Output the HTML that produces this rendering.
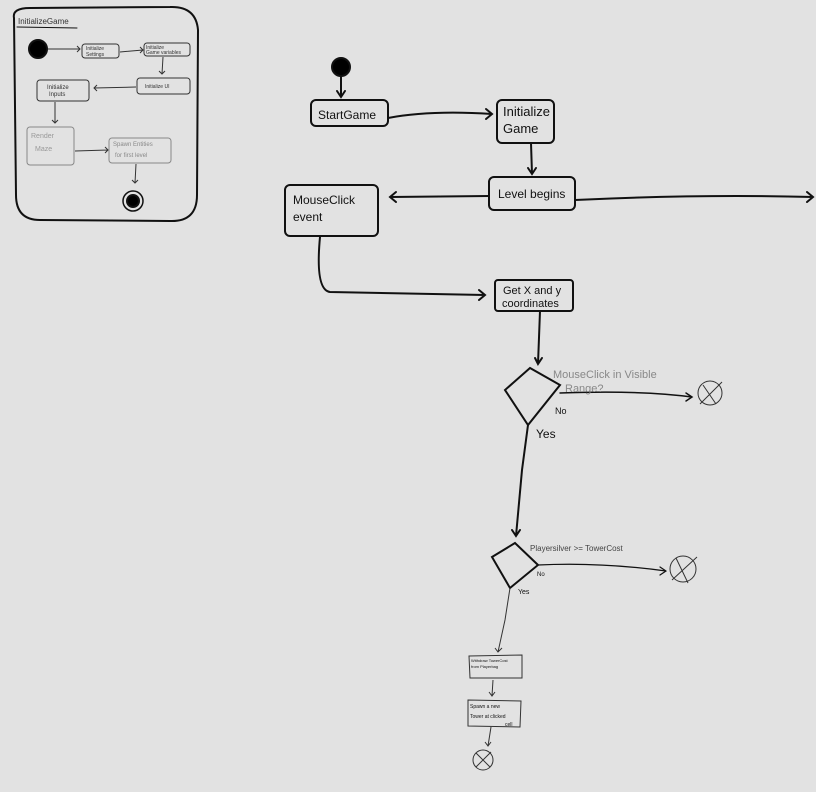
<!DOCTYPE html>
<html><head><style>html,body{margin:0;padding:0;background:#e2e2e2;}svg{display:block}</style></head>
<body>
<svg width="816" height="792" viewBox="0 0 816 792" xmlns="http://www.w3.org/2000/svg" font-family="Liberation Sans, sans-serif">
<rect width="816" height="792" fill="#e2e2e2"/>
<g fill="none" stroke="#111" stroke-width="2" stroke-linecap="round">
<!-- left frame -->
<path d="M14,18 Q12,8 30,8 L170,7 Q196,6 198,30 L197,195 Q197,222 170,221 L40,220 Q16,220 16,195 Z"/>
<path d="M17,27 L77,28" stroke-width="1"/>
<circle cx="38" cy="49" r="9" fill="#000"/>
<circle cx="133" cy="201" r="10" stroke-width="1.5"/>
<circle cx="133" cy="201" r="6" fill="#000"/>
</g>
<g fill="none" stroke="#333" stroke-width="1">
<rect x="82" y="44" width="37" height="14" rx="3"/>
<rect x="144" y="43" width="46" height="13" rx="3"/>
<rect x="137" y="78" width="53" height="16" rx="3"/>
<rect x="37" y="80" width="52" height="21" rx="3"/>
<rect x="27" y="127" width="47" height="38" rx="3" stroke="#888"/>
<rect x="109" y="138" width="62" height="25" rx="3" stroke="#888"/>
<path d="M48,49 L80,49 M77,46 L80,49 L77,52"/>
<path d="M120,52 L143,50 M140,47 L143,50 L140,53"/>
<path d="M163,57 L162,74 M159,71 L162,74 L165,71"/>
<path d="M136,87 L94,88 M97,85 L94,88 L97,91"/>
<path d="M55,102 L55,123 M52,120 L55,123 L58,120"/>
<path d="M75,151 L108,150 M105,147 L108,150 L105,153"/>
<path d="M136,164 L135,183 M132,180 L135,183 L138,180"/>
</g>
<g font-size="5" fill="#333">
<text x="18" y="24" font-size="8">InitializeGame</text>
<text x="86" y="50">Initialize</text><text x="86" y="56">Settings</text>
<text x="146" y="49">Initialize</text><text x="146" y="54">Game variables</text>
<text x="145" y="88">Initialize UI</text>
<text x="47" y="89" font-size="6">Initialize</text><text x="49" y="96" font-size="6">Inputs</text>
<text x="31" y="138" font-size="7" fill="#999">Render</text><text x="35" y="151" font-size="7" fill="#999">Maze</text>
<text x="113" y="146" font-size="6" fill="#888">Spawn Entities</text><text x="115" y="157" font-size="6" fill="#888">for first level</text>
</g>
<!-- main flow -->
<g fill="none" stroke="#111" stroke-width="2" stroke-linecap="round">
<circle cx="341" cy="67" r="9" fill="#000"/>
<path d="M341,76 L341,97 M337,91 L341,97 L345,91"/>
<rect x="311" y="100" width="77" height="26" rx="5"/>
<path d="M388,118 Q430,110 492,114 M486,109 L492,114 L486,119"/>
<rect x="497" y="100" width="57" height="43" rx="5"/>
<path d="M531,143 L532,174 M528,168 L532,174 L536,168"/>
<rect x="489" y="177" width="86" height="33" rx="5"/>
<path d="M489,196 L390,197 M396,192 L390,197 L396,202"/>
<path d="M575,200 Q700,194 813,197 M807,192 L813,197 L807,202"/>
<rect x="285" y="185" width="93" height="51" rx="5"/>
<path d="M320,237 Q315,290 330,292 L485,295 M479,290 L485,295 L479,300"/>
<rect x="495" y="280" width="78" height="31" rx="3"/>
<path d="M540,311 L538,364 M535,358 L538,364 L542,358"/>
<path d="M530,368 L505,390 L528,425 L560,385 Z"/>
<path d="M560,393 Q640,390 692,397 M686,393 L692,397 L686,401" stroke-width="1.5"/>
<path d="M528,425 L522,470 L516,536 M512,530 L516,536 L520,530"/>
<path d="M515,543 L492,557 L510,588 L538,565 Z"/>
<path d="M538,565 Q600,562 666,571 M660,567 L666,571 L660,575" stroke-width="1.2"/>
</g>
<g fill="none" stroke="#333" stroke-width="1">
<circle cx="710" cy="393" r="12"/><path d="M700,404 L722,382 M703,385 L716,404"/>
<circle cx="683" cy="569" r="13"/><path d="M672,580 L697,557 M676,558 L688,583"/>
<path d="M510,588 L505,620 L498,652 M495,648 L498,652 L502,648"/>
<path d="M469,656 L522,655 L522,678 L470,678 Z"/>
<path d="M493,680 L492,696 M489,692 L492,696 L495,692"/>
<path d="M468,700 L521,701 L520,727 L468,726 Z"/>
<path d="M491,727 L488,746 M485,742 L488,746 L491,742"/>
<circle cx="483" cy="760" r="10"/><path d="M476,767 L491,752 M476,753 L490,767"/>
</g>
<g fill="#111">
<text x="318" y="119" font-size="12">StartGame</text>
<text x="503" y="116" font-size="13">Initialize</text><text x="503" y="133" font-size="13">Game</text>
<text x="498" y="198" font-size="12">Level begins</text>
<text x="293" y="204" font-size="12">MouseClick</text><text x="293" y="221" font-size="12">event</text>
<text x="503" y="294" font-size="11">Get X and y</text><text x="502" y="307" font-size="11">coordinates</text>
<text x="553" y="378" font-size="11" fill="#888">MouseClick in Visible</text><text x="565" y="392" font-size="11" fill="#888">Range?</text>
<text x="555" y="414" font-size="9">No</text>
<text x="536" y="438" font-size="12">Yes</text>
<text x="530" y="551" font-size="8" fill="#444">Playersilver &gt;= TowerCost</text>
<text x="537" y="576" font-size="6">No</text>
<text x="518" y="594" font-size="7">Yes</text>
<text x="471" y="662" font-size="4">Withdraw TowerCost</text><text x="471" y="668" font-size="4">from Playerbag</text>
<text x="470" y="708" font-size="5">Spawn a new</text><text x="470" y="718" font-size="5">Tower at clicked</text><text x="505" y="726" font-size="5">cell</text>
</g>
</svg>
</body></html>
